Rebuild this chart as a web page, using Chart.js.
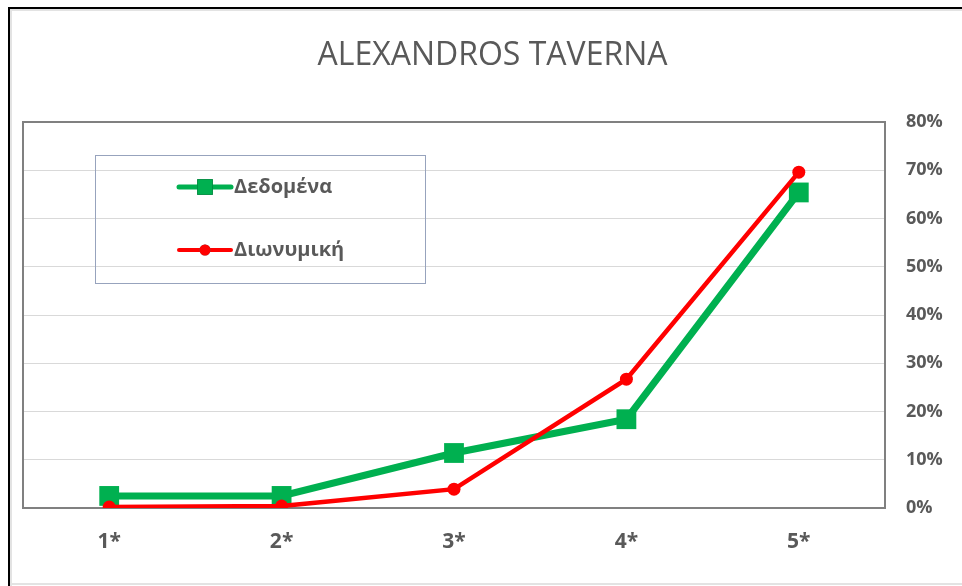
<!DOCTYPE html>
<html>
<head>
<meta charset="utf-8">
<title>ALEXANDROS TAVERNA</title>
<script src="https://cdn.jsdelivr.net/npm/chart.js@4.4.1/dist/chart.umd.min.js"></script>
<style>
  html, body { margin: 0; padding: 0; background: #fff; }
  #wrap { width: 962px; height: 586px; }
  canvas { display: block; }
</style>
</head>
<body>
<div id="wrap"><canvas id="taverna" width="962" height="586"></canvas></div>
<script>
// data (percent)
const categories = ["1*", "2*", "3*", "4*", "5*"];
const dataValues = [2.5, 2.5, 11.4, 18.4, 65.4];      // Δεδομένα
const binomialValues = [0.2, 0.4, 3.9, 26.7, 69.6];   // Διωνυμική
const yTicks = [0, 10, 20, 30, 40, 50, 60, 70, 80];

const GREY_TEXT = "#595959";
const GREEN = "#00b050";
const RED = "#ff0000";

// white page + thin screenshot frame
const framePlugin = {
  id: "frame",
  beforeDraw(chart) {
    const c = chart.ctx;
    c.save();
    c.fillStyle = "#fff";
    c.fillRect(0, 0, chart.width, chart.height);
    c.fillStyle = "#000";
    c.fillRect(8, 7, chart.width - 8, 2);
    c.fillRect(8, 7, 2, chart.height - 7);
    c.fillStyle = "#e3e3e3";
    c.fillRect(10, 9, chart.width - 10, 2);
    c.fillRect(10, 9, 2, chart.height - 9);
    c.fillRect(10, 583, chart.width - 10, 2);
    c.restore();
  }
};

// grey box round the plot area, under the lines
const plotBorder = {
  id: "plotBorder",
  beforeDatasetsDraw(chart) {
    const a = chart.chartArea, c = chart.ctx;
    c.save();
    c.strokeStyle = "#808080";
    c.lineWidth = 2;
    c.strokeRect(a.left, a.top, a.right - a.left, a.bottom - a.top);
    c.restore();
  }
};

// legend sits inside the plot, in its own box
const boxLegend = {
  id: "boxLegend",
  afterDatasetsDraw(chart) {
    const c = chart.ctx;
    c.save();
    c.strokeStyle = "#97a3bd";
    c.lineWidth = 1;
    c.strokeRect(95.5, 155.5, 330, 128);
    chart.data.datasets.forEach((ds, i) => {
      const y = 187 + i * 63;
      c.strokeStyle = ds.borderColor;
      c.lineWidth = ds.legendLineWidth;
      c.lineCap = "round";
      c.beginPath();
      c.moveTo(179, y);
      c.lineTo(231, y);
      c.stroke();
      Chart.helpers.drawPoint(c, {
        pointStyle: ds.pointStyle,
        radius: ds.legendRadius,
        rotation: 0,
        borderWidth: 0
      }, 205, y);
      c.fillStyle = ds.pointBackgroundColor;
      c.fill();
      c.fillStyle = GREY_TEXT;
      c.font = "bold 20px 'Open Sans'";
      c.textBaseline = "middle";
      c.textAlign = "left";
      c.fillText(ds.label, 234, y);
    });
    c.restore();
  }
};

new Chart(document.getElementById("taverna"), {
  type: "line",
  data: {
    labels: categories,
    datasets: [
      {
        label: "Δεδομένα",
        data: dataValues,
        borderColor: GREEN,
        backgroundColor: GREEN,
        pointBackgroundColor: GREEN,
        pointBorderWidth: 0,
        borderWidth: 7,
        pointStyle: "rect",
        pointRadius: 14,
        legendRadius: 11,
        legendLineWidth: 5,
        order: 1
      },
      {
        label: "Διωνυμική",
        data: binomialValues,
        borderColor: RED,
        backgroundColor: RED,
        pointBackgroundColor: RED,
        pointBorderWidth: 0,
        borderWidth: 4.5,
        pointStyle: "circle",
        pointRadius: 6.5,
        legendRadius: 5.5,
        legendLineWidth: 4,
        order: 0
      }
    ]
  },
  options: {
    responsive: false,
    animation: false,
    layout: { padding: { left: 23, right: 0, top: 0, bottom: 0 } },
    plugins: {
      legend: { display: false },
      tooltip: { enabled: false },
      title: {
        display: true,
        text: "ALEXANDROS TAVERNA",
        color: GREY_TEXT,
        font: { family: "'Open Sans'", size: 32, weight: "normal", lineHeight: 1.2 },
        padding: { top: 37, bottom: 46.6 }
      }
    },
    scales: {
      x: {
        offset: true,
        grid: { display: false, drawTicks: false },
        border: { display: false },
        ticks: {
          color: GREY_TEXT,
          font: { family: "'Open Sans'", size: 21, weight: "bold" },
          padding: 21
        },
        afterFit(scale) { scale.height = 78; }
      },
      y: {
        position: "right",
        min: yTicks[0],
        max: yTicks[yTicks.length - 1],
        afterBuildTicks(scale) { scale.ticks = yTicks.map(v => ({ value: v })); },
        grid: { color: "#d9d9d9", lineWidth: 1, drawTicks: false },
        border: { display: false },
        ticks: {
          color: GREY_TEXT,
          font: { family: "'Open Sans'", size: 18, weight: "bold" },
          padding: 21,
          callback: v => v + "%"
        },
        afterFit(scale) { scale.width = 77; }
      }
    }
  },
  plugins: [framePlugin, plotBorder, boxLegend]
});
</script>
</body>
</html>
